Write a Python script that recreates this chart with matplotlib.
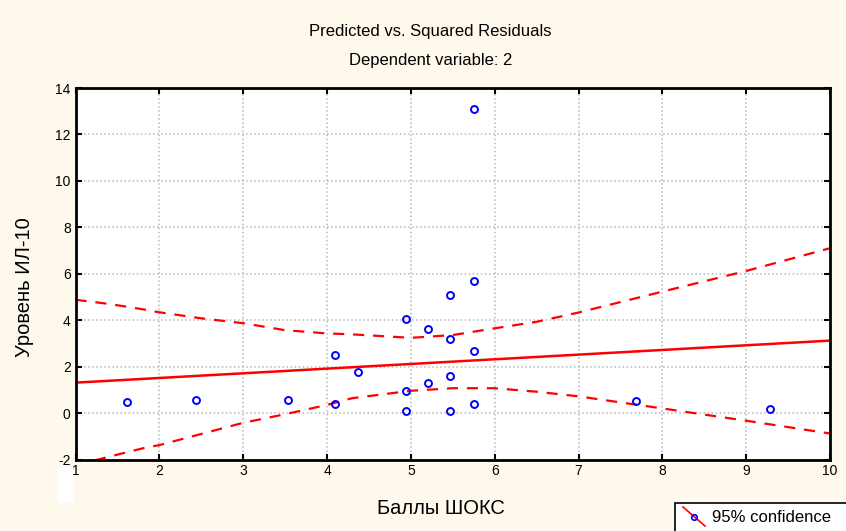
import numpy as np
import matplotlib.pyplot as plt
from matplotlib.patches import Rectangle
from matplotlib.lines import Line2D

# points
x = [1.62, 2.44, 3.54, 4.10, 4.10, 4.37, 4.94, 4.94, 4.94, 5.21, 5.21,
     5.47, 5.47, 5.47, 5.47, 5.75, 5.75, 5.75, 5.75, 7.69, 9.28]
y = [0.48, 0.56, 0.56, 2.49, 0.39, 1.76, 4.07, 0.95, 0.09, 3.60, 1.29,
     5.09, 3.17, 1.59, 0.09, 13.1, 5.69, 2.66, 0.39, 0.52, 0.18]

# regression line and 95% band
fit_x = [1, 10]
fit_y = [1.31, 3.12]
band_x = [1.0, 1.4, 1.8, 2.0, 2.5, 3.0, 3.5, 4.0, 4.3, 5.0, 5.5, 6.0, 6.5, 7.0, 8.0, 9.0, 10.0]
upper = [4.88, 4.70, 4.47, 4.34, 4.08, 3.87, 3.57, 3.43, 3.39, 3.24, 3.36, 3.65, 3.93, 4.33, 5.23, 6.12, 7.10]
lower = [-2.25, -1.88, -1.52, -1.38, -0.90, -0.42, -0.05, 0.35, 0.64, 0.96, 1.07, 1.07, 0.92, 0.72, 0.20, -0.33, -0.88]

xticks = list(range(1, 11))
yticks = list(range(-2, 15, 2))

bg = '#fff8ec'
plt.rcParams['font.family'] = ['Liberation Sans', 'DejaVu Sans']
plt.rcParams['axes.unicode_minus'] = False

fig = plt.figure(figsize=(8.46, 5.31), dpi=100, facecolor=bg)
ax = fig.add_axes([75.5 / 846, 1 - 459.5 / 531, 754.5 / 846, 371.5 / 531])
ax.set_facecolor('white')

ax.plot(fit_x, fit_y, color='red', lw=1.8)
ax.plot(band_x, upper, color='red', lw=1.6, ls=(0, (5, 4)))
ax.plot(band_x, lower, color='red', lw=1.6, ls=(0, (5, 4)))
ax.plot(x, y, 'o', mfc='none', mec='blue', mew=1.4, ms=5)

ax.set_xlim(1, 10)
ax.set_ylim(-2, 14)
ax.set_xticks(xticks)
ax.set_yticks(yticks)
ax.grid(True, color='#b8b8b8', ls=':', lw=1.1)
ax.tick_params(direction='in', top=True, right=True, length=4, width=1.5, labelsize=10)
for sp in ax.spines.values():
    sp.set_linewidth(2)

fig.text(0.509, 0.94, 'Predicted vs. Squared Residuals', ha='center', va='center', fontsize=12)
fig.text(0.509, 0.887, 'Dependent variable: 2', ha='center', va='center', fontsize=12)
fig.text(441 / 846, 1 - 508 / 531, 'Баллы ШОКС', ha='center', va='center', fontsize=14.5)
fig.text(25 / 846, 1 - 287 / 531, 'Уровень ИЛ-10', ha='center', va='center',
         rotation=90, fontsize=14.5)

# small white patch near the corner
fig.patches.append(Rectangle((57 / 846, 1 - 503 / 531), 16 / 846, 36 / 531,
                             transform=fig.transFigure, facecolor='white', edgecolor='none'))

# legend box, cut off at the figure edge
fig.patches.append(Rectangle((675 / 846, -0.05), 0.3, 0.05 + 1 - 503 / 531,
                             transform=fig.transFigure, facecolor='white',
                             edgecolor='black', lw=1.2))
fig.lines.append(Line2D([683 / 846, 705 / 846], [1 - 507 / 531, 1 - 526 / 531],
                        transform=fig.transFigure, color='red', lw=1.2))
fig.lines.append(Line2D([694 / 846], [1 - 517 / 531], transform=fig.transFigure,
                        marker='o', mfc='none', mec='blue', mew=1.2, ms=4, ls='none'))
fig.text(712 / 846, 1 - 518 / 531, '95% confidence', ha='left', va='center', fontsize=12)

fig.savefig('out.png', dpi=100, facecolor=bg)
